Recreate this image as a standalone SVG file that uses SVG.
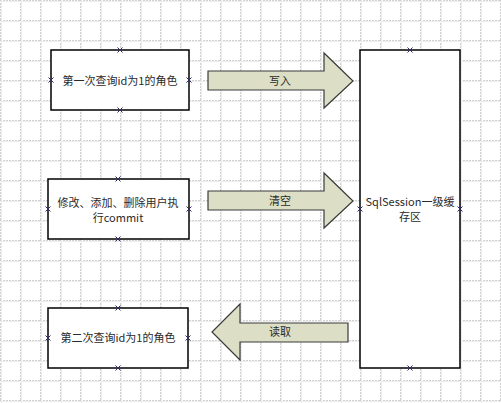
<svg xmlns="http://www.w3.org/2000/svg" width="501" height="403" viewBox="0 0 501 403">
<defs>
<pattern id="grid" x="0" y="0" width="20" height="20" patternUnits="userSpaceOnUse">
<path d="M0.5 0V20M0 0.5H20" fill="none" stroke="#d0d0d0" stroke-width="1" stroke-dasharray="2,1"/>
<path d="M1.5 0V20M0 1.5H20" fill="none" stroke="#ededed" stroke-width="1"/>
</pattern>
<g id="xm"><path d="M-2.5 -2.5L2.5 2.5M-2.5 2.5L2.5 -2.5" stroke="#2a2a6a" stroke-width="1"/></g>
</defs>
<style>
.box{fill:#ffffff;stroke:#000000;stroke-width:1.5}
.arr{fill:#dcdfc6;stroke:#3a3a3a;stroke-width:1.2}
.t{font-family:"Noto Sans CJK SC","Liberation Sans",sans-serif;font-size:11px;fill:#2a2a2a;text-anchor:middle;dominant-baseline:central}
</style>
<rect width="501" height="403" fill="#ffffff"/>
<rect width="501" height="403" fill="url(#grid)"/>

<g id="n1">
<rect class="box" x="51" y="50" width="138" height="60"/>
<text class="t" x="120" y="80">第一次查询id为1的角色</text>
<use href="#xm" x="120" y="50"/><use href="#xm" x="120" y="110"/><use href="#xm" x="51" y="80"/><use href="#xm" x="189" y="80"/>
</g>

<g id="n2">
<rect class="box" x="48" y="179" width="141" height="60"/>
<text class="t" x="118" y="201.5">修改、添加、删除用户执</text>
<text class="t" x="118" y="216.5">行commit</text>
<use href="#xm" x="118" y="179"/><use href="#xm" x="118" y="239"/><use href="#xm" x="48" y="209"/><use href="#xm" x="189" y="209"/>
</g>

<g id="n3">
<rect class="box" x="48" y="308" width="140" height="60"/>
<text class="t" x="118" y="337">第二次查询id为1的角色</text>
<use href="#xm" x="118" y="308"/><use href="#xm" x="118" y="368"/><use href="#xm" x="48" y="338"/><use href="#xm" x="188" y="338"/>
</g>

<g id="n4">
<rect class="box" x="360" y="50" width="100" height="318"/>
<text class="t" x="410" y="201">SqlSession一级缓</text>
<text class="t" x="410" y="216">存区</text>
<use href="#xm" x="410" y="50"/><use href="#xm" x="410" y="368"/><use href="#xm" x="360" y="209"/><use href="#xm" x="460" y="209"/>
</g>

<g id="connectors">
<g id="a1">
<path class="arr" d="M208 71H324V53L353 81L324 108V90H208Z"/>
<text class="t" x="280" y="80">写入</text>
</g>
<g id="a2">
<path class="arr" d="M208 191H324V173L353 201L324 228V210H208Z"/>
<text class="t" x="280" y="200">清空</text>
</g>
<g id="a3">
<path class="arr" d="M348 323H240V304L212 332L240 360V342H348Z"/>
<text class="t" x="280" y="331">读取</text>
</g>
</g>
</svg>
